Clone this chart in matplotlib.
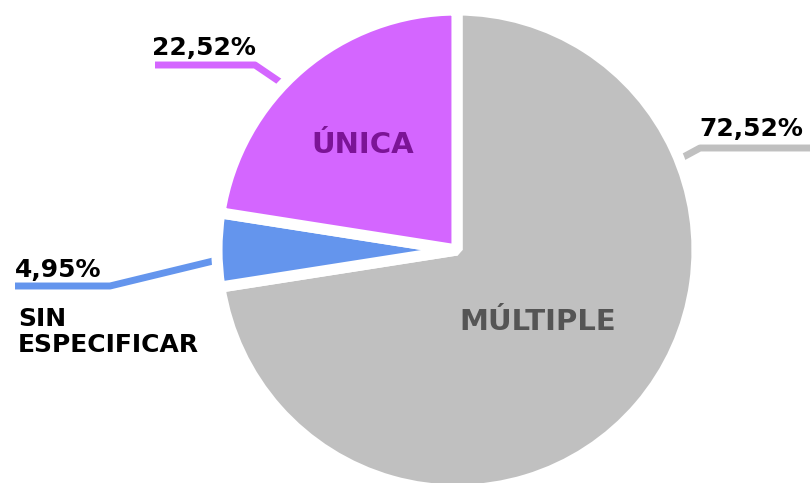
import numpy as np
import matplotlib.pyplot as plt

# slice data, clockwise from 12 o'clock
labels = ["MÚLTIPLE", "SIN\nESPECIFICAR", "ÚNICA"]
values = [72.52, 4.95, 22.52]
pct_text = ["72,52%", "4,95%", "22,52%"]
colors = ["#C0C0C0", "#6495ED", "#D466FF"]

W, H = 810, 483
fig = plt.figure(figsize=(W / 100, H / 100), dpi=100)
ax = fig.add_axes([0, 0, 1, 1])

cx, cy, r = 457, H - 250, 240
wedges, _ = ax.pie(values, colors=colors, startangle=90, counterclock=False,
                   center=(cx, cy), radius=r, frame=True,
                   explode=[0, 0.015, 0],
                   wedgeprops=dict(edgecolor="white", linewidth=8,
                                   joinstyle="bevel"))
ax.set_xlim(0, W)
ax.set_ylim(0, H)
ax.set_aspect("equal")
ax.axis("off")

# inner labels
ax.text(538, H - 322, "MÚLTIPLE", ha="center", va="center", fontsize=21,
        fontweight="bold", color="#555555")
ax.text(363, H - 145, "ÚNICA", ha="center", va="center", fontsize=21,
        fontweight="bold", color="#7B1496")

# leader lines: angle on the rim, elbow, end of horizontal
leaders = [(22, (700, 148), (810, 148)),
           (182, (110, 286), (15, 286)),
           (136, (255, 65), (155, 65))]
for (ang, elbow, end), col in zip(leaders, colors):
    a = np.deg2rad(ang)
    px, py = cx + (r - 8) * np.cos(a), cy + (r - 8) * np.sin(a)
    ax.plot([px, elbow[0], end[0]], [py, H - elbow[1], H - end[1]],
            color=col, lw=5, solid_capstyle="butt", zorder=0)

ax.text(699, H - 136, pct_text[0], ha="left", va="baseline", fontsize=18,
        fontweight="bold", color="black")
ax.text(15, H - 277, pct_text[1], ha="left", va="baseline", fontsize=18,
        fontweight="bold", color="black")
ax.text(152, H - 55, pct_text[2], ha="left", va="baseline", fontsize=18,
        fontweight="bold", color="black")
ax.text(18, H - 352, labels[1], ha="left", va="baseline", fontsize=18,
        fontweight="bold", color="black", linespacing=1.1)

fig.savefig("out.png", dpi=100)
